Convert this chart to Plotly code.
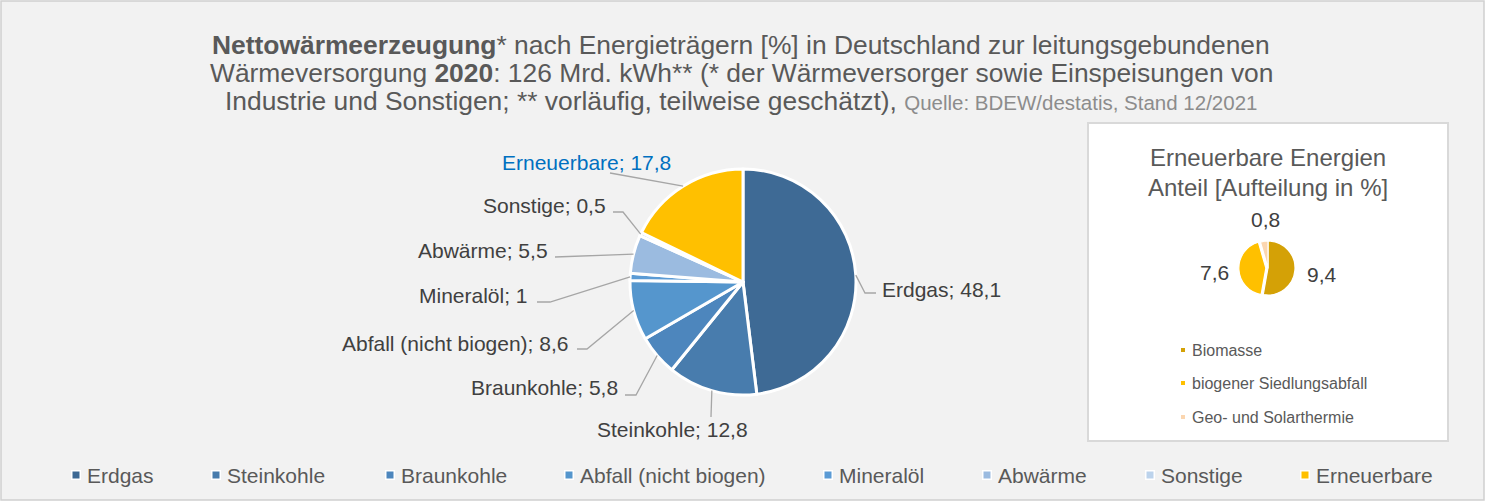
import math
import plotly.graph_objects as go

W, H = 1493, 502

# ---------------- data ----------------
main_labels = ["Erdgas", "Steinkohle", "Braunkohle", "Abfall (nicht biogen)",
               "Mineralöl", "Abwärme", "Sonstige", "Erneuerbare"]
main_values = [48.1, 12.8, 5.8, 8.6, 1, 5.5, 0.5, 17.8]

ren_labels = ["Biomasse", "biogener Siedlungsabfall", "Geo- und Solarthermie"]
ren_values = [9.4, 7.6, 0.8]

title_lines = [
    "<b>Nettowärmeerzeugung</b>* nach Energieträgern [%] in Deutschland zur leitungsgebundenen",
    "Wärmeversorgung <b>2020</b>: 126 Mrd. kWh** (* der Wärmeversorger sowie Einspeisungen von",
    "Industrie und Sonstigen; ** vorläufig, teilweise geschätzt), ",
]
source_text = "Quelle: BDEW/destatis, Stand 12/2021"
inset_title = ["Erneuerbare Energien", "Anteil [Aufteilung in %]"]

# ---------------- style ----------------
main_colors = ["#3e6a95", "#487cad", "#4d86bd", "#5596cd", "#5b9bd5",
               "#9bbbe0", "#bcd3ec", "#ffc000"]
ren_colors = ["#d4a106", "#ffc000", "#fbd6b0"]
FONT = "Liberation Sans, Arial, sans-serif"
TXT = "#595959"
LBL = "#404040"
LINE = "#a6a6a6"

# main pie geometry (pixels)
PC_X, PC_Y, PR = 743, 282, 113
# small pie geometry
SC_X, SC_Y, SR = 1268, 268, 27
S_PULL = 0.08

# label layout: text anchor (x, y, xanchor), leader start, horizontal elbow length
label_pos = [(880, 289, "left"), (672, 429, "center"), (620, 387, "right"),
             (570, 343, "right"), (530, 295, "right"), (550, 250, "right"),
             (608, 205, "right"), (586, 163, "center")]
line_start = [(876, 293), (711, 417), (625, 395), (577, 349), (537, 302),
              (555, 257), (613, 212), (610, 173)]
elbow = [-11, 0, 11, 10, 13, 0, 10, 0]
label_colors = [LBL] * 7 + ["#0070c0"]

legend_x = [76, 216, 390, 569, 828, 987, 1150, 1305]
LEG_Y = 475
inset_leg_y = [350, 383, 417]


def fx(x):
    return x / W


def fy(y):
    return 1 - y / H


def fmt(v):
    return f"{v:g}".replace(".", ",")


def mid_angles(values):
    tot = sum(values)
    out, cum = [], 0
    for v in values:
        out.append((cum + v / 2) / tot * 2 * math.pi)
        cum += v
    return out


fig = go.Figure()

fig.add_trace(go.Pie(
    labels=main_labels, values=main_values, sort=False, direction="clockwise",
    rotation=0, textinfo="none", showlegend=False,
    marker=dict(colors=main_colors, line=dict(color="white", width=3)),
    domain=dict(x=[fx(PC_X - PR), fx(PC_X + PR)], y=[fy(PC_Y + PR), fy(PC_Y - PR)]),
))

SRD = SR * (1 + S_PULL)
fig.add_trace(go.Pie(
    labels=ren_labels, values=ren_values, sort=False, direction="clockwise",
    rotation=0, textinfo="none", showlegend=False, pull=[0, S_PULL, 0],
    marker=dict(colors=ren_colors, line=dict(color="white", width=1.2)),
    domain=dict(x=[fx(SC_X - SRD), fx(SC_X + SRD)], y=[fy(SC_Y + SRD), fy(SC_Y - SRD)]),
))

shapes = [
    dict(type="rect", xref="paper", yref="paper", x0=fx(1), x1=fx(1484), y0=fy(500), y1=fy(1),
         fillcolor="#f2f2f2", line=dict(color="#d0d0d0", width=1.5), layer="below"),
    dict(type="rect", xref="paper", yref="paper", x0=fx(1088), x1=fx(1448), y0=fy(441), y1=fy(123),
         fillcolor="white", line=dict(color="#d9d9d9", width=2), layer="below"),
]

annotations = []

# leader lines + labels for main pie
for i, a in enumerate(mid_angles(main_values)):
    ex = PC_X + PR * math.sin(a)
    ey = PC_Y - PR * math.cos(a)
    sx, sy = line_start[i]
    path = f"M{fx(sx)},{fy(sy)}"
    if elbow[i]:
        path += f" L{fx(sx + elbow[i])},{fy(sy)}"
    path += f" L{fx(ex)},{fy(ey)}"
    shapes.append(dict(type="path", xref="paper", yref="paper", path=path,
                       line=dict(color=LINE, width=1.3)))
    lx, ly, anc = label_pos[i]
    annotations.append(dict(x=fx(lx), y=fy(ly), xref="paper", yref="paper",
                            text=f"{main_labels[i]}; {fmt(main_values[i])}",
                            showarrow=False, xanchor=anc, yanchor="middle",
                            font=dict(family=FONT, size=21, color=label_colors[i])))

# small pie value labels
for i, a in enumerate(mid_angles(ren_values)):
    rr = 54
    annotations.append(dict(x=fx(SC_X + rr * math.sin(a) + (5 if i == 2 else 0)),
                            y=fy(SC_Y - rr * math.cos(a) + (5 if i == 2 else 2)),
                            xref="paper", yref="paper", text=fmt(ren_values[i]),
                            showarrow=False, xanchor="center", yanchor="middle",
                            font=dict(family=FONT, size=21, color=LBL)))

# title
title_y = [45, 73, 101]
for i, t in enumerate(title_lines):
    if i == 2:
        t = t + f"<span style='font-size:20.5px;color:#8c8c8c'>{source_text}</span>"
    annotations.append(dict(x=fx(741), y=fy(title_y[i]), xref="paper", yref="paper",
                            text=t, showarrow=False, xanchor="center", yanchor="middle",
                            font=dict(family=FONT, size=26.4, color=TXT)))

# inset title
for i, t in enumerate(inset_title):
    annotations.append(dict(x=fx(1268), y=fy(158 + 29 * i), xref="paper", yref="paper",
                            text=t, showarrow=False, xanchor="center", yanchor="middle",
                            font=dict(family=FONT, size=24, color=TXT)))

# inset legend
for i, lab in enumerate(ren_labels):
    y = inset_leg_y[i]
    shapes.append(dict(type="rect", xref="paper", yref="paper",
                       x0=fx(1181), x1=fx(1185), y0=fy(y + 2), y1=fy(y - 2),
                       fillcolor=ren_colors[i], line=dict(width=0)))
    annotations.append(dict(x=fx(1190), y=fy(y), xref="paper", yref="paper", text=lab,
                            showarrow=False, xanchor="left", yanchor="middle",
                            font=dict(family=FONT, size=16, color=TXT)))

# main legend
for i, lab in enumerate(main_labels):
    x = legend_x[i]
    shapes.append(dict(type="rect", xref="paper", yref="paper",
                       x0=fx(x - 5), x1=fx(x + 5), y0=fy(LEG_Y + 5), y1=fy(LEG_Y - 5),
                       fillcolor="white", line=dict(width=0)))
    shapes.append(dict(type="rect", xref="paper", yref="paper",
                       x0=fx(x - 3.5), x1=fx(x + 3.5), y0=fy(LEG_Y + 3.5), y1=fy(LEG_Y - 3.5),
                       fillcolor=main_colors[i], line=dict(width=0)))
    annotations.append(dict(x=fx(x + 9), y=fy(LEG_Y), xref="paper", yref="paper", text=lab,
                            showarrow=False, xanchor="left", yanchor="middle",
                            font=dict(family=FONT, size=21, color=TXT)))

fig.update_layout(
    width=W, height=H, autosize=False,
    margin=dict(l=0, r=0, t=0, b=0),
    paper_bgcolor="white", plot_bgcolor="white",
    shapes=shapes, annotations=annotations, showlegend=False,
)

fig.write_html("out.html", config={"displayModeBar": False},
               post_script="document.body.style.margin='0px';document.body.style.overflow='hidden';")
